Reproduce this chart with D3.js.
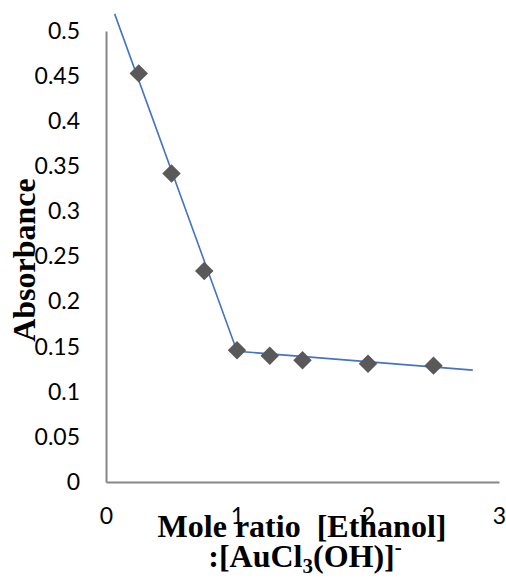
<!DOCTYPE html>
<html>
<head>
<meta charset="utf-8">
<script src="https://cdn.jsdelivr.net/npm/d3@7"></script>
<style>
	body { margin: 0; background: #fff; }
	.tick text { font-family: Lato, "Open Sans", sans-serif; font-size: 23px; fill: #000; }
	.axis path { stroke: #868686; stroke-width: 2; }
	.axis-title { font-family: "Liberation Serif", "Times New Roman", serif; font-weight: bold; font-size: 32px; fill: #000; }
</style>
</head>
<body>
<div id="chart"></div>
<script>
// measured points
let moleRatio = [0.25, 0.5, 0.75, 1.0, 1.25, 1.5, 2.0, 2.5];
let absorbance = [0.453, 0.342, 0.234, 0.146, 0.140, 0.135, 0.131, 0.129];
// the two fitted straight lines (break at ratio 1)
let fitX = [0.066, 1.0, 2.8];
let fitY = [0.519, 0.145, 0.124];
// tick labels
let xTicks = [0, 1, 2, 3];
let yTicks = [0, 0.05, 0.1, 0.15, 0.2, 0.25, 0.3, 0.35, 0.4, 0.45, 0.5];

let width = 506, height = 580;
let svg = d3.select("#chart").append("svg")
	.attr("width", width)
	.attr("height", height);

let x = d3.scaleLinear().domain([0, 3]).range([106, 499]);
let y = d3.scaleLinear().domain([0, 0.5]).range([482, 31]);

//y axis
svg.append("g")
	.attr("class", "axis")
	.attr("transform", `translate(${x(0)}, 0)`)
	.call(d3.axisLeft(y).tickValues(yTicks).tickSize(0).tickSizeOuter(0).tickPadding(26)
		.tickFormat(d => String(d)));

//x axis
svg.append("g")
	.attr("class", "axis")
	.attr("transform", `translate(0, ${y(0)})`)
	.call(d3.axisBottom(x).tickValues(xTicks).tickSize(0).tickSizeOuter(0).tickPadding(26)
		.tickFormat(d => String(d)));

//fitted lines
let fitData = fitX.map((d, i) => ({ x: d, y: fitY[i] }));
let line = d3.line().x(d => x(d.x)).y(d => y(d.y));
svg.append("path")
	.attr("d", line(fitData))
	.attr("fill", "none")
	.attr("stroke", "#4472C4")
	.attr("stroke-width", 1.6);

//diamond markers
let pts = moleRatio.map((d, i) => ({ x: d, y: absorbance[i] }));
svg.selectAll(".pt")
	.data(pts)
	.enter()
	.append("path")
	.attr("class", "pt")
	.attr("d", d3.symbol().type(d3.symbolSquare).size(170))
	.attr("transform", d => `translate(${x(d.x)}, ${y(d.y)}) rotate(45)`)
	.attr("fill", "#595959");

//axis titles
svg.append("text")
	.attr("class", "axis-title")
	.attr("transform", "translate(35, 260) rotate(-90)")
	.attr("text-anchor", "middle")
	.text("Absorbance");

let xt = svg.append("text")
	.attr("class", "axis-title")
	.attr("text-anchor", "middle")
	.style("white-space", "pre");
xt.append("tspan")
	.attr("x", 302)
	.attr("y", 537)
	.text("Mole ratio  [Ethanol]");
let l2 = xt.append("tspan").attr("x", 305).attr("y", 567);
l2.append("tspan").text(":[AuCl");
l2.append("tspan").attr("dy", 6).attr("font-size", "21px").text("3");
l2.append("tspan").attr("dy", -6).text("(OH)]");
l2.append("tspan").attr("dy", -13).attr("font-size", "21px").text("-");
</script>
</body>
</html>
